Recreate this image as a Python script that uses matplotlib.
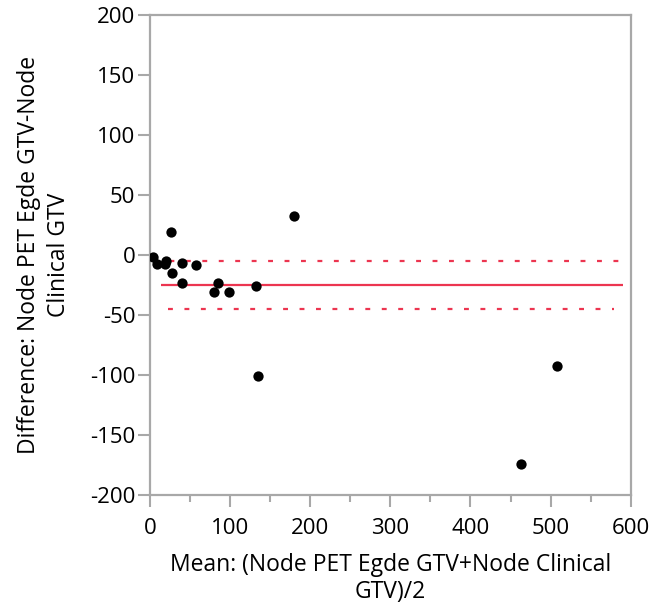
import matplotlib
matplotlib.use("Agg")
import matplotlib.pyplot as plt
from matplotlib.ticker import MultipleLocator

plt.rcParams['font.family'] = ['Open Sans', 'DejaVu Sans']
plt.rcParams['axes.unicode_minus'] = False

# Data (mean, difference)
mean_vals = [3.3, 8.3, 20, 19, 39.6, 57, 27, 26.6, 39.6, 84.6, 80, 99, 132, 179.6, 134.6, 462.5, 507.5]
diff_vals = [-1.2, -7.3, -4.5, -7.5, -6.7, -8, -15, 19.4, -23.3, -23.3, -30.3, -30.3, -25.3, 33, -100.6, -174, -92]

mean_diff = -24.75
upper_ci = -4.75
lower_ci = -44.75
mean_line_x = [13.3, 590]
upper_line_x = [3.3, 592.5]
lower_line_x = [23, 579]

x_ticks = [0, 100, 200, 300, 400, 500, 600]
y_ticks = [-200, -150, -100, -50, 0, 50, 100, 150, 200]

red = '#ec3550'
gray = '#a8a8a8'

fig = plt.figure(figsize=(6.55, 6.1), dpi=100)
ax = fig.add_axes([150/655, 1-495.3/610, (630.7-150)/655, (495.3-15.3)/610])

ax.plot(mean_line_x, [mean_diff, mean_diff], color=red, lw=1.6, solid_capstyle='butt', zorder=2)
ax.plot(upper_line_x, [upper_ci, upper_ci], color=red, lw=1.6, dashes=(2.2, 5.2), zorder=2)
ax.plot(lower_line_x, [lower_ci, lower_ci], color=red, lw=1.6, dashes=(2.2, 5.2), zorder=2)

ax.scatter(mean_vals, diff_vals, s=55, color='black', zorder=3, linewidths=0)

ax.set_xlim(0, 600)
ax.set_ylim(-200, 200)
ax.set_xticks(x_ticks)
ax.set_yticks(y_ticks)
ax.xaxis.set_minor_locator(MultipleLocator(50))

for sp in ax.spines.values():
    sp.set_color(gray)
    sp.set_linewidth(1.6)

ax.tick_params(axis='both', which='major', direction='out', length=8.5, width=1.5, color=gray, labelsize=16)
ax.tick_params(axis='x', which='major', pad=8)
ax.tick_params(axis='y', which='major', pad=2)
ax.tick_params(axis='x', which='minor', direction='out', length=5, width=1.5, color=gray)

ax.set_xlabel('Mean: (Node PET Egde GTV+Node Clinical\nGTV)/2', fontsize=16.5, labelpad=10, linespacing=1.15)
ax.set_ylabel('Difference: Node PET Egde GTV-Node\nClinical GTV', fontsize=16.5, labelpad=14, linespacing=1.3)

fig.savefig('out.png', dpi=100, facecolor='white')
